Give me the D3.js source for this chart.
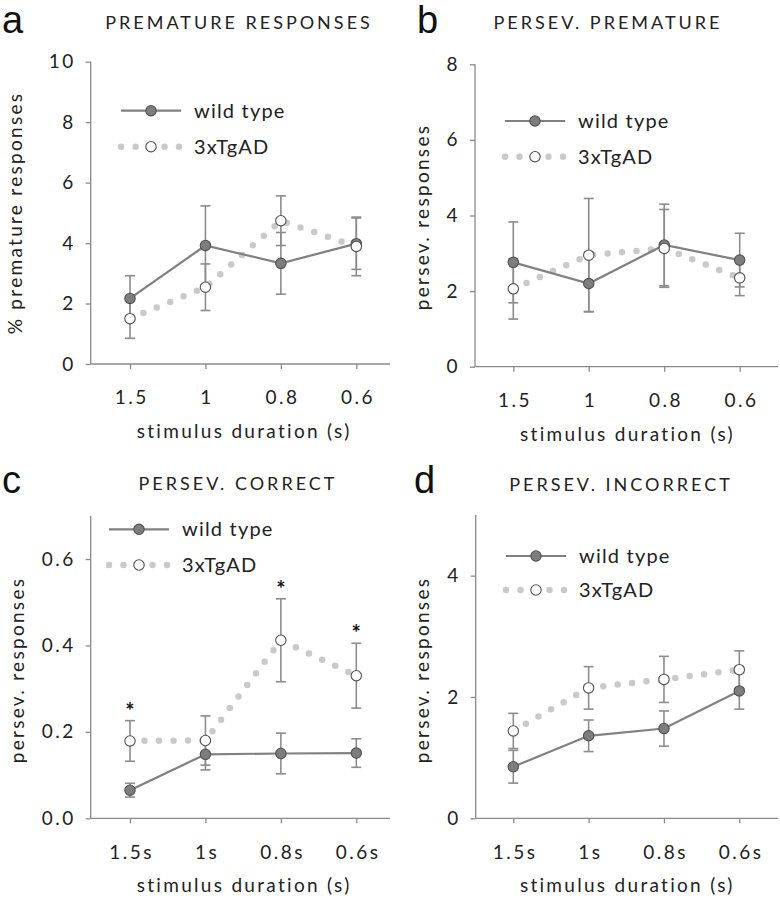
<!DOCTYPE html>
<html>
<head>
<meta charset="utf-8">
<script src="https://cdn.jsdelivr.net/npm/d3@7"></script>
<style>
  body { margin: 0; background: #fff; }
  text { font-family: Lato, "Open Sans", sans-serif; fill: #222; }
  .letter { font-family: "Liberation Sans", Arial, sans-serif; font-size: 38px; fill: #111; }
  .title { font-size: 18px; letter-spacing: 3px; }
  .tick text { font-size: 19px; letter-spacing: 2.5px; fill: #222; }
  .alabel { font-size: 19px; letter-spacing: 2.3px; }
  .leg { font-size: 20px; letter-spacing: 1.2px; }
</style>
</head>
<body>
<div id="fig"></div>
<script>
// x categories
let durAB = ["1.5", "1", "0.8", "0.6"];
let durCD = ["1.5s", "1s", "0.8s", "0.6s"];

// a. premature responses (%)
let premWt = [2.17, 3.92, 3.33, 3.98];
let premWtErr = [0.75, 1.31, 1.02, 0.85];
let premTg = [1.5, 2.54, 4.74, 3.89];
let premTgErr = [0.65, 0.77, 0.82, 0.97];

// b. persev. premature
let psPremWt = [2.76, 2.2, 3.22, 2.82];
let psPremWtErr = [1.07, 0.74, 1.08, 0.71];
let psPremTg = [2.06, 2.95, 3.13, 2.35];
let psPremTgErr = [0.8, 1.5, 1.03, 0.47];

// c. persev. correct
let psCorWt = [0.065, 0.148, 0.15, 0.151];
let psCorWtErr = [0.016, 0.036, 0.047, 0.033];
let psCorTg = [0.179, 0.18, 0.412, 0.33];
let psCorTgErr = [0.047, 0.057, 0.096, 0.075];
let psCorSig = [true, false, true, true];

// d. persev. incorrect
let psIncWt = [0.85, 1.36, 1.48, 2.1];
let psIncWtErr = [0.27, 0.26, 0.29, 0.3];
let psIncTg = [1.44, 2.15, 2.29, 2.45];
let psIncTgErr = [0.29, 0.35, 0.38, 0.31];

let width = 780;
let height = 900;

let svg = d3.select("#fig")
    .append("svg")
    .attr("width", width)
    .attr("height", height);

let axisCol = "#8a8a8a";
let wtCol = "#808080";
let tgDot = "#c9c9c9";
let markStroke = "#505050";

function drawPanel(p) {
    let g = svg.append("g");

    let x = d3.scalePoint().domain(p.cats).range([p.x0, p.x1]);
    let y = d3.scaleLinear().domain([0, p.yMax]).range([p.yBot, p.yTop]);

    // letter + title
    g.append("text").attr("class", "letter")
        .attr("x", p.lx).attr("y", p.ly).text(p.letter);
    g.append("text").attr("class", "title")
        .attr("x", p.tx).attr("y", p.ty)
        .attr("text-anchor", "middle").text(p.title);

    // axes
    let yAxis = d3.axisLeft(y).tickValues(p.yTicks).tickFormat(p.fmt)
        .tickSize(5).tickPadding(10);
    let gy = g.append("g")
        .attr("transform", "translate(" + p.left + ",0)")
        .call(yAxis);
    gy.select(".domain").remove();
    gy.selectAll(".tick line").attr("stroke", axisCol).attr("stroke-width", 1.3);
    g.append("line")
        .attr("x1", p.left).attr("x2", p.left)
        .attr("y1", y(p.yMax)).attr("y2", p.yBot)
        .attr("stroke", axisCol).attr("stroke-width", 1.3);

    let xAxis = d3.axisBottom(x).tickSize(5).tickPadding(22);
    let gx = g.append("g")
        .attr("transform", "translate(0," + p.yBot + ")")
        .call(xAxis);
    gx.select(".domain").remove();
    gx.selectAll(".tick line").attr("stroke", axisCol).attr("stroke-width", 1.3);
    gx.selectAll(".tick text").attr("dx", 1.2);
    g.append("line")
        .attr("x1", p.left).attr("x2", p.right)
        .attr("y1", p.yBot).attr("y2", p.yBot)
        .attr("stroke", axisCol).attr("stroke-width", 1.3);

    // axis labels
    g.append("text").attr("class", "alabel")
        .attr("text-anchor", "middle")
        .attr("transform", "translate(" + p.ylx + "," + p.yly + ")rotate(-90)")
        .attr("dy", "0.35em")
        .text(p.yLabel);
    g.append("text").attr("class", "alabel")
        .attr("text-anchor", "middle")
        .attr("x", (p.x0 + p.x1) / 2 + 1).attr("y", p.yBot + 74)
        .text("stimulus duration (s)");

    let wt = p.cats.map(function(c, i) { return {c: c, v: p.wt[i], e: p.wtErr[i]}; });
    let tg = p.cats.map(function(c, i) { return {c: c, v: p.tg[i], e: p.tgErr[i], s: p.sig ? p.sig[i] : false}; });

    let line = d3.line()
        .x(function(d) { return x(d.c); })
        .y(function(d) { return y(d.v); });

    // 3xTgAD dotted line
    g.append("path").datum(tg)
        .attr("d", line)
        .attr("fill", "none")
        .attr("stroke", tgDot)
        .attr("stroke-width", 6.5)
        .attr("stroke-linecap", "round")
        .attr("stroke-dasharray", "0,14.5");

    // error bars
    let all = wt.concat(tg);
    let eb = g.selectAll("g.eb").data(all).enter().append("g")
        .attr("stroke", "#8c8c8c").attr("stroke-width", 1.6);
    eb.append("line")
        .attr("x1", function(d) { return x(d.c); })
        .attr("x2", function(d) { return x(d.c); })
        .attr("y1", function(d) { return y(d.v + d.e); })
        .attr("y2", function(d) { return y(d.v - d.e); });
    eb.append("line")
        .attr("x1", function(d) { return x(d.c) - 5; })
        .attr("x2", function(d) { return x(d.c) + 5; })
        .attr("y1", function(d) { return y(d.v + d.e); })
        .attr("y2", function(d) { return y(d.v + d.e); });
    eb.append("line")
        .attr("x1", function(d) { return x(d.c) - 5; })
        .attr("x2", function(d) { return x(d.c) + 5; })
        .attr("y1", function(d) { return y(d.v - d.e); })
        .attr("y2", function(d) { return y(d.v - d.e); });

    // wild type solid line
    g.append("path").datum(wt)
        .attr("d", line)
        .attr("fill", "none")
        .attr("stroke", wtCol)
        .attr("stroke-width", 2.2);

    g.selectAll("circle.wt").data(wt).enter().append("circle")
        .attr("cx", function(d) { return x(d.c); })
        .attr("cy", function(d) { return y(d.v); })
        .attr("r", 5.2)
        .attr("fill", "#7d7d7d")
        .attr("stroke", markStroke).attr("stroke-width", 1.1);

    g.selectAll("circle.tg").data(tg).enter().append("circle")
        .attr("cx", function(d) { return x(d.c); })
        .attr("cy", function(d) { return y(d.v); })
        .attr("r", 5.2)
        .attr("fill", "#fff")
        .attr("stroke", markStroke).attr("stroke-width", 1.1);

    // significance stars
    g.selectAll("text.star").data(tg.filter(function(d) { return d.s; })).enter()
        .append("text")
        .attr("x", function(d) { return x(d.c); })
        .attr("y", function(d) { return y(d.v + d.e) - 2; })
        .attr("text-anchor", "middle")
        .attr("font-size", 22).attr("font-weight", "bold")
        .style("fill", "#111")
        .text("*");

    // legend
    let lg = g.append("g").attr("transform", "translate(" + p.legX + "," + p.legY + ")");
    lg.append("line").attr("x1", 0).attr("x2", 60).attr("y1", 0).attr("y2", 0)
        .attr("stroke", wtCol).attr("stroke-width", 2.2);
    lg.append("circle").attr("cx", 30).attr("cy", 0).attr("r", 5.2)
        .attr("fill", "#7d7d7d").attr("stroke", markStroke).attr("stroke-width", 1.1);
    lg.append("text").attr("class", "leg").attr("x", 73).attr("y", 0)
        .attr("dy", "0.35em").text("wild type");
    lg.append("line").attr("x1", 0).attr("x2", 60).attr("y1", p.legGap).attr("y2", p.legGap)
        .attr("stroke", tgDot).attr("stroke-width", 6.5)
        .attr("stroke-linecap", "round").attr("stroke-dasharray", "0,14.5");
    lg.append("circle").attr("cx", 30).attr("cy", p.legGap).attr("r", 5.2)
        .attr("fill", "#fff").attr("stroke", markStroke).attr("stroke-width", 1.1);
    lg.append("text").attr("class", "leg").attr("x", 73).attr("y", p.legGap)
        .attr("dy", "0.35em").text("3xTgAD");
}

drawPanel({
    letter: "a", lx: 2, ly: 33, title: "PREMATURE RESPONSES", tx: 239, ty: 29,
    cats: durAB, x0: 130, x1: 356.3, left: 90.7, right: 390,
    yMax: 10, yTop: 61.7, yBot: 364, yTicks: [0, 2, 4, 6, 8, 10], fmt: d3.format("d"),
    yLabel: "% premature responses", ylx: 15, yly: 213,
    wt: premWt, wtErr: premWtErr, tg: premTg, tgErr: premTgErr,
    legX: 121, legY: 110.7, legGap: 36
});

drawPanel({
    letter: "b", lx: 417, ly: 33, title: "PERSEV. PREMATURE", tx: 608, ty: 29,
    cats: durAB, x0: 513.3, x1: 739.7, left: 475, right: 778,
    yMax: 8, yTop: 64.3, yBot: 366.7, yTicks: [0, 2, 4, 6, 8], fmt: d3.format("d"),
    yLabel: "persev. responses", ylx: 422, yly: 217,
    wt: psPremWt, wtErr: psPremWtErr, tg: psPremTg, tgErr: psPremTgErr,
    legX: 505, legY: 121, legGap: 35.7
});

drawPanel({
    letter: "c", lx: 2, ly: 493, title: "PERSEV. CORRECT", tx: 238, ty: 490,
    cats: durCD, x0: 130, x1: 356.3, left: 90.7, right: 390,
    yMax: 0.7, yTop: 515.8, yBot: 818.3, yTicks: [0, 0.2, 0.4, 0.6], fmt: d3.format(".1f"),
    yLabel: "persev. responses", ylx: 17, yly: 670,
    wt: psCorWt, wtErr: psCorWtErr, tg: psCorTg, tgErr: psCorTgErr, sig: psCorSig,
    legX: 109, legY: 529.3, legGap: 35.7
});

drawPanel({
    letter: "d", lx: 414, ly: 493, title: "PERSEV. INCORRECT", tx: 621, ty: 491,
    cats: durCD, x0: 513.3, x1: 739.3, left: 475.7, right: 778,
    yMax: 5, yTop: 515, yBot: 818.3, yTicks: [0, 2, 4], fmt: d3.format("d"),
    yLabel: "persev. responses", ylx: 422, yly: 670,
    wt: psIncWt, wtErr: psIncWtErr, tg: psIncTg, tgErr: psIncTgErr,
    legX: 506, legY: 556, legGap: 34
});
</script>
</body>
</html>
